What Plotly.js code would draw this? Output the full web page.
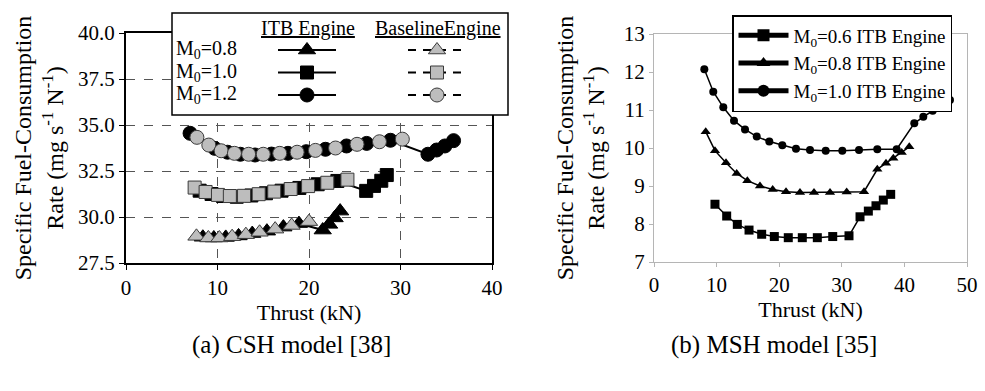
<!DOCTYPE html>
<html>
<head>
<meta charset="utf-8">
<script src="https://cdn.plot.ly/plotly-3.0.1.min.js"></script>
<style>html,body{margin:0;padding:0;background:#fff;}#chart{width:985px;height:391px;}</style>
</head>
<body>
<div id="chart"></div>
<script>
// ---------- (a) CSH model: thrust (kN) vs SFC (mg s^-1 N^-1) ----------
const itb08_x = [8.4, 9.6, 10.9, 12.3, 13.8, 15.4, 17.2, 18.9, 21.5, 22.2, 22.8, 23.4];
const itb08_y = [28.90, 28.86, 28.89, 28.97, 29.10, 29.23, 29.45, 29.64, 29.29, 29.60, 29.95, 30.32];
const base08_x = [7.7, 9.0, 10.2, 11.6, 13.1, 14.6, 16.3, 18.1, 20.0];
const base08_y = [28.95, 28.86, 28.86, 28.93, 29.04, 29.17, 29.34, 29.54, 29.75];

const itb10_x = [8.05, 9.35, 10.6, 12.1, 13.7, 15.3, 17.0, 18.95, 20.95, 23.1, 26.25, 27.1, 27.9, 28.5];
const itb10_y = [31.43, 31.25, 31.14, 31.10, 31.17, 31.29, 31.43, 31.58, 31.78, 31.96, 31.42, 31.69, 31.97, 32.28];
const base10_x = [7.5, 8.7, 10.05, 11.35, 12.9, 14.5, 16.2, 18.0, 19.9, 22.0, 24.2];
const base10_y = [31.60, 31.36, 31.20, 31.14, 31.15, 31.24, 31.38, 31.52, 31.68, 31.86, 32.03];

const itb12_x = [7.0, 9.7, 11.1, 12.5, 14.1, 15.9, 17.7, 19.7, 21.8, 24.1, 26.3, 28.9, 33.0, 33.95, 34.85, 35.8];
const itb12_y = [34.55, 33.73, 33.52, 33.41, 33.37, 33.42, 33.46, 33.55, 33.68, 33.86, 34.00, 34.17, 33.41, 33.64, 33.86, 34.15];
const base12_x = [7.75, 9.05, 10.4, 11.85, 13.4, 15.0, 16.8, 18.7, 20.7, 22.9, 25.25, 27.7, 30.2];
const base12_y = [34.33, 33.91, 33.60, 33.46, 33.41, 33.41, 33.46, 33.52, 33.62, 33.75, 33.95, 34.09, 34.23];

// ---------- (b) MSH model ----------
const msh06_x = [9.74, 11.61, 13.31, 15.18, 17.2, 19.22, 21.45, 23.69, 26.09, 28.55, 31.15, 32.91, 34.24, 35.46, 36.63, 37.81];
const msh06_y = [8.52, 8.21, 7.99, 7.84, 7.73, 7.67, 7.64, 7.64, 7.64, 7.67, 7.69, 8.19, 8.34, 8.48, 8.63, 8.78];
const msh08_x = [8.26, 9.74, 11.50, 13.21, 14.91, 16.93, 18.96, 21.09, 23.32, 25.56, 28.12, 30.78, 33.55, 35.67, 37.06, 38.23, 39.57, 40.78];
const msh08_y = [10.43, 9.93, 9.61, 9.33, 9.14, 9.00, 8.91, 8.85, 8.83, 8.83, 8.83, 8.84, 8.85, 9.44, 9.60, 9.73, 9.88, 10.03];
const msh10_x = [8.04, 9.47, 11.07, 12.78, 14.54, 16.41, 18.42, 20.50, 22.68, 24.92, 27.43, 30.08, 32.75, 35.67, 38.77, 41.58, 43.02, 44.52, 45.96, 47.28];
const msh10_y = [12.07, 11.48, 11.07, 10.72, 10.49, 10.30, 10.17, 10.07, 9.98, 9.95, 9.93, 9.93, 9.95, 9.97, 9.97, 10.65, 10.82, 10.98, 11.11, 11.26];

// ---------- text ----------
const yTitle = 'Specific Fuel-Consumption<br>Rate (mg s<sup>-1</sup> N<sup>-1</sup>)';
const xTitle = 'Thrust (kN)';
const rowLabels = ['M<sub>0</sub>=0.8', 'M<sub>0</sub>=1.0', 'M<sub>0</sub>=1.2'];
const colHeaders = ['ITB Engine', 'BaselineEngine'];
const mshNames = ['M<sub>0</sub>=0.6 ITB Engine', 'M<sub>0</sub>=0.8 ITB Engine', 'M<sub>0</sub>=1.0 ITB Engine'];
const captions = ['(a) CSH model [38]', '(b) MSH model [35]'];

const FONT = 'Liberation Serif';
const GRAY = '#bdbdbd';

function itbTrace(x, y, sym, size) {
  return {x: x, y: y, type: 'scatter', mode: 'lines+markers', name: ' ', legend: 'legend',
    xaxis: 'x', yaxis: 'y', line: {color: '#000', width: 2},
    marker: {symbol: sym, size: size, color: '#000', line: {color: '#000', width: 1}}, hoverinfo: 'x+y'};
}
function baseTrace(x, y, sym, size) {
  return {x: x, y: y, type: 'scatter', mode: 'lines+markers', name: ' ', legend: 'legend2',
    xaxis: 'x', yaxis: 'y', line: {color: '#000', width: 2, dash: '8px,7px'},
    marker: {symbol: sym, size: size, color: GRAY, line: {color: '#3a3a3a', width: 1}}, hoverinfo: 'x+y'};
}
function mshTrace(x, y, sym, size, name) {
  return {x: x, y: y, type: 'scatter', mode: 'lines+markers', name: name, legend: 'legend3',
    xaxis: 'x2', yaxis: 'y2', line: {color: '#000', width: 1.5},
    marker: {symbol: sym, size: size, color: '#000'}, hoverinfo: 'x+y'};
}

const data = [
  itbTrace(itb08_x, itb08_y, 'triangle-up', 15),
  itbTrace(itb10_x, itb10_y, 'square', 13),
  itbTrace(itb12_x, itb12_y, 'circle', 14),
  baseTrace(base08_x, base08_y, 'triangle-up', 15),
  baseTrace(base10_x, base10_y, 'square', 13),
  baseTrace(base12_x, base12_y, 'circle', 14),
  mshTrace(msh06_x, msh06_y, 'square', 9, mshNames[0]),
  mshTrace(msh08_x, msh08_y, 'triangle-up', 9, mshNames[1]),
  mshTrace(msh10_x, msh10_y, 'circle', 8, mshNames[2])
];

const W = 985, H = 391;
const px = v => v / W;
const py = v => 1 - v / H;
const TICK = 21, YTITLE = 24, XTITLE = 22, CAP = 25;

const axBase = {showline: true, mirror: true, zeroline: false, ticks: 'outside',
  tickfont: {family: FONT, size: TICK, color: '#000'}, automargin: false};

function note(x, y, text, size, anchor) {
  return {xref: 'paper', yref: 'paper', x: x, y: y, text: text, showarrow: false,
    xanchor: anchor || 'center', yanchor: 'middle', font: {family: FONT, size: size, color: '#000'}};
}

const layout = {
  width: W, height: H,
  margin: {l: 0, r: 0, t: 0, b: 0},
  paper_bgcolor: '#fff', plot_bgcolor: '#fff',
  font: {family: FONT, color: '#000', size: 20},
  xaxis: Object.assign({}, axBase, {domain: [px(126), px(492)], anchor: 'y', range: [0, 40], dtick: 10,
    showgrid: true, griddash: 'dash', gridcolor: '#555', gridwidth: 1,
    linecolor: '#000', linewidth: 2, tickcolor: '#000', ticklen: 5,
    title: {text: xTitle, font: {family: FONT, size: XTITLE, color: '#000'}, standoff: 0}}),
  yaxis: Object.assign({}, axBase, {domain: [py(263), py(33)], anchor: 'x', range: [27.5, 40], dtick: 2.5,
    tickformat: '.1f', showgrid: true, griddash: 'dash', gridcolor: '#555', gridwidth: 1,
    linecolor: '#000', linewidth: 2, tickcolor: '#000', ticklen: 5,
    title: {text: yTitle, font: {family: FONT, size: YTITLE, color: '#000'}, standoff: 8}}),
  xaxis2: Object.assign({}, axBase, {domain: [px(654), px(967)], anchor: 'y2', range: [0, 50], dtick: 10,
    showgrid: false, linecolor: '#b5b5b5', linewidth: 1, tickcolor: '#b5b5b5', ticklen: 4,
    title: {text: xTitle, font: {family: FONT, size: XTITLE, color: '#000'}, standoff: 0}}),
  yaxis2: Object.assign({}, axBase, {domain: [py(262), py(34)], anchor: 'x2', range: [7, 13], dtick: 1,
    showgrid: false, linecolor: '#b5b5b5', linewidth: 1, tickcolor: '#b5b5b5', ticklen: 4,
    title: {text: yTitle, font: {family: FONT, size: YTITLE, color: '#000'}, standoff: 12}}),
  legend: {x: px(273), y: py(33.75), xanchor: 'left', yanchor: 'top', bgcolor: 'rgba(0,0,0,0)',
    borderwidth: 0, font: {family: FONT, size: 15}, itemwidth: 58, traceorder: 'normal', itemclick: false},
  legend2: {x: px(403), y: py(33.75), xanchor: 'left', yanchor: 'top', bgcolor: 'rgba(0,0,0,0)',
    borderwidth: 0, font: {family: FONT, size: 15}, itemwidth: 58, traceorder: 'normal', itemclick: false},
  legend3: {x: px(732), y: py(15), xanchor: 'left', yanchor: 'top', bgcolor: '#fff',
    bordercolor: '#000', borderwidth: 1.5, font: {family: FONT, size: 19, color: '#000'},
    itemwidth: 50, itemsizing: 'constant', traceorder: 'normal', itemclick: false},
  shapes: [
    {type: 'rect', xref: 'paper', yref: 'paper', x0: px(172), x1: px(508), y0: py(115), y1: py(13),
     fillcolor: '#fff', line: {color: '#000', width: 1.5}, layer: 'above'}
  ],
  annotations: [
    note(px(308), py(28), '<u>' + colHeaders[0] + '</u>', 20),
    note(px(438), py(28), '<u>' + colHeaders[1] + '</u>', 20),
    note(px(174), py(50), rowLabels[0], 20, 'left'),
    note(px(174), py(72.5), rowLabels[1], 20, 'left'),
    note(px(174), py(95), rowLabels[2], 20, 'left'),
    note(px(291), py(345), captions[0], CAP),
    note(px(774), py(345), captions[1], CAP)
  ],
  showlegend: true
};

Plotly.newPlot('chart', data, layout, {displayModeBar: false, staticPlot: true});
</script>
</body>
</html>
